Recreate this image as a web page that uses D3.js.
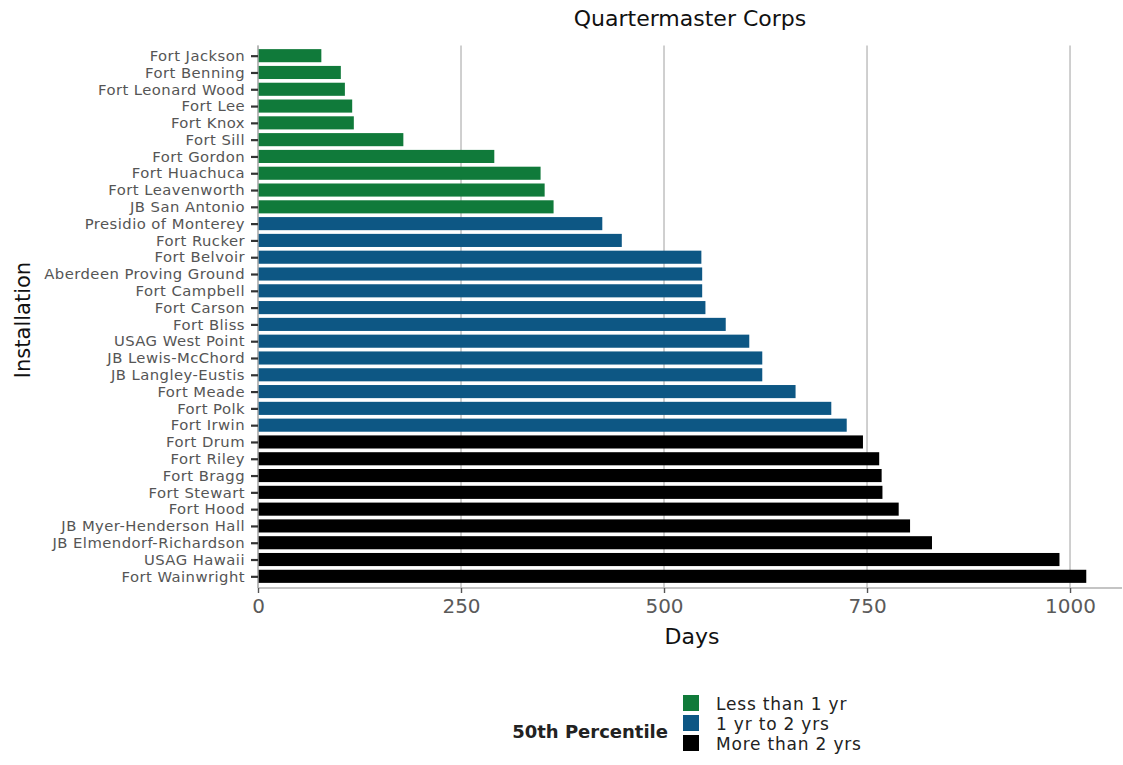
<!DOCTYPE html>
<html>
<head>
<meta charset="utf-8">
<script src="https://cdn.jsdelivr.net/npm/d3@7"></script>
<style>
  body { margin: 0; background: #fff; }
  svg { display: block; font-family: "DejaVu Sans", sans-serif; }
</style>
</head>
<body>
<svg id="chart" width="1123" height="765"></svg>
<script>
const installations = [
  "Fort Jackson", "Fort Benning", "Fort Leonard Wood", "Fort Lee", "Fort Knox",
  "Fort Sill", "Fort Gordon", "Fort Huachuca", "Fort Leavenworth", "JB San Antonio",
  "Presidio of Monterey", "Fort Rucker", "Fort Belvoir", "Aberdeen Proving Ground",
  "Fort Campbell", "Fort Carson", "Fort Bliss", "USAG West Point", "JB Lewis-McChord",
  "JB Langley-Eustis", "Fort Meade", "Fort Polk", "Fort Irwin", "Fort Drum",
  "Fort Riley", "Fort Bragg", "Fort Stewart", "Fort Hood", "JB Myer-Henderson Hall",
  "JB Elmendorf-Richardson", "USAG Hawaii", "Fort Wainwright"
];
const days = [
  78, 102, 107, 116, 118,
  179, 291, 348, 353, 364,
  424, 448, 546, 547,
  547, 551, 576, 605, 621,
  621, 662, 706, 725, 745,
  765, 768, 769, 789, 803,
  830, 987, 1020
];
const groups = [
  "Less than 1 yr","Less than 1 yr","Less than 1 yr","Less than 1 yr","Less than 1 yr",
  "Less than 1 yr","Less than 1 yr","Less than 1 yr","Less than 1 yr","Less than 1 yr",
  "1 yr to 2 yrs","1 yr to 2 yrs","1 yr to 2 yrs","1 yr to 2 yrs",
  "1 yr to 2 yrs","1 yr to 2 yrs","1 yr to 2 yrs","1 yr to 2 yrs","1 yr to 2 yrs",
  "1 yr to 2 yrs","1 yr to 2 yrs","1 yr to 2 yrs","1 yr to 2 yrs","More than 2 yrs",
  "More than 2 yrs","More than 2 yrs","More than 2 yrs","More than 2 yrs","More than 2 yrs",
  "More than 2 yrs","More than 2 yrs","More than 2 yrs"
];
const legendLabels = ["Less than 1 yr", "1 yr to 2 yrs", "More than 2 yrs"];
const legendColors = ["#107a3a", "#0d5784", "#000000"];
const xTicks = [0, 250, 500, 750, 1000];

const data = installations.map((n, i) => ({ name: n, value: days[i], group: groups[i] }));

const svg = d3.select("#chart");
const plot = { left: 258, right: 1122, top: 45.6, bottom: 588 };

const x = d3.scaleLinear().domain([0, 1064]).range([plot.left, plot.right]);
const y = d3.scalePoint().domain(installations).range([plot.top, plot.bottom - 1.6]).padding(0.6);
const color = d3.scaleOrdinal().domain(legendLabels).range(legendColors);
const step = y.step();
const barH = step * 0.78;

// gridlines
svg.append("g").selectAll("line").data(xTicks).join("line")
  .attr("x1", d => x(d)).attr("x2", d => x(d))
  .attr("y1", plot.top).attr("y2", plot.bottom)
  .attr("stroke", "#c4c4c4").attr("stroke-width", 1.6);

// bars
svg.append("g").selectAll("rect").data(data).join("rect")
  .attr("x", x(0))
  .attr("y", d => y(d.name) - barH / 2)
  .attr("width", d => x(d.value) - x(0))
  .attr("height", barH)
  .attr("fill", d => color(d.group));

// y axis
const yAxis = svg.append("g").attr("transform", `translate(${plot.left},0)`)
  .call(d3.axisLeft(y).tickSize(7).tickPadding(6));
yAxis.select(".domain").attr("stroke", "#b0b0b0").attr("stroke-width", 1.4)
  .attr("d", `M0,${plot.top}V${plot.bottom}`);
yAxis.selectAll(".tick line").attr("stroke", "#333").attr("stroke-width", 2.2);
yAxis.selectAll(".tick text").attr("fill", "#555")
  .style("font-size", "14.8px").style("letter-spacing", "0.45px")
  .style("font-family", "'DejaVu Sans', sans-serif");

// x axis
const xAxis = svg.append("g").attr("transform", `translate(0,${plot.bottom})`)
  .call(d3.axisBottom(x).tickValues(xTicks).tickFormat(d3.format("d")).tickSize(5).tickPadding(6));
xAxis.select(".domain").attr("stroke", "#b0b0b0").attr("stroke-width", 1.4)
  .attr("d", `M${plot.left},0H${plot.right}`);
xAxis.selectAll(".tick line").attr("stroke", "#555").attr("stroke-width", 1.4);
xAxis.selectAll(".tick text").attr("fill", "#5a5a5a").style("font-size", "20px")
  .style("font-family", "'DejaVu Sans', sans-serif");

// title
svg.append("text").attr("x", (plot.left + plot.right) / 2).attr("y", 26)
  .attr("text-anchor", "middle").style("font-size", "22px").attr("fill", "#111")
  .text("Quartermaster Corps");

// axis titles
svg.append("text").attr("x", 692).attr("y", 644)
  .attr("text-anchor", "middle").style("font-size", "22px").attr("fill", "#111")
  .text("Days");
svg.append("text").attr("transform", `translate(30,320) rotate(-90)`)
  .attr("text-anchor", "middle").style("font-size", "21px").attr("fill", "#111")
  .text("Installation");

// legend
const lg = svg.append("g");
lg.append("text").attr("x", 668).attr("y", 738).attr("text-anchor", "end")
  .style("font-size", "18px").style("font-weight", "bold").attr("fill", "#222")
  .text("50th Percentile");
const keySize = 16;
const items = lg.selectAll("g.item").data(legendLabels).join("g").attr("class", "item")
  .attr("transform", (d, i) => `translate(683,${695 + i * 20})`);
items.append("rect").attr("width", keySize).attr("height", keySize).attr("fill", d => color(d));
items.append("text").attr("x", 33).attr("y", 15).style("font-size", "17px")
  .style("letter-spacing", "0.8px").attr("fill", "#222")
  .text(d => d);
</script>
</body>
</html>
